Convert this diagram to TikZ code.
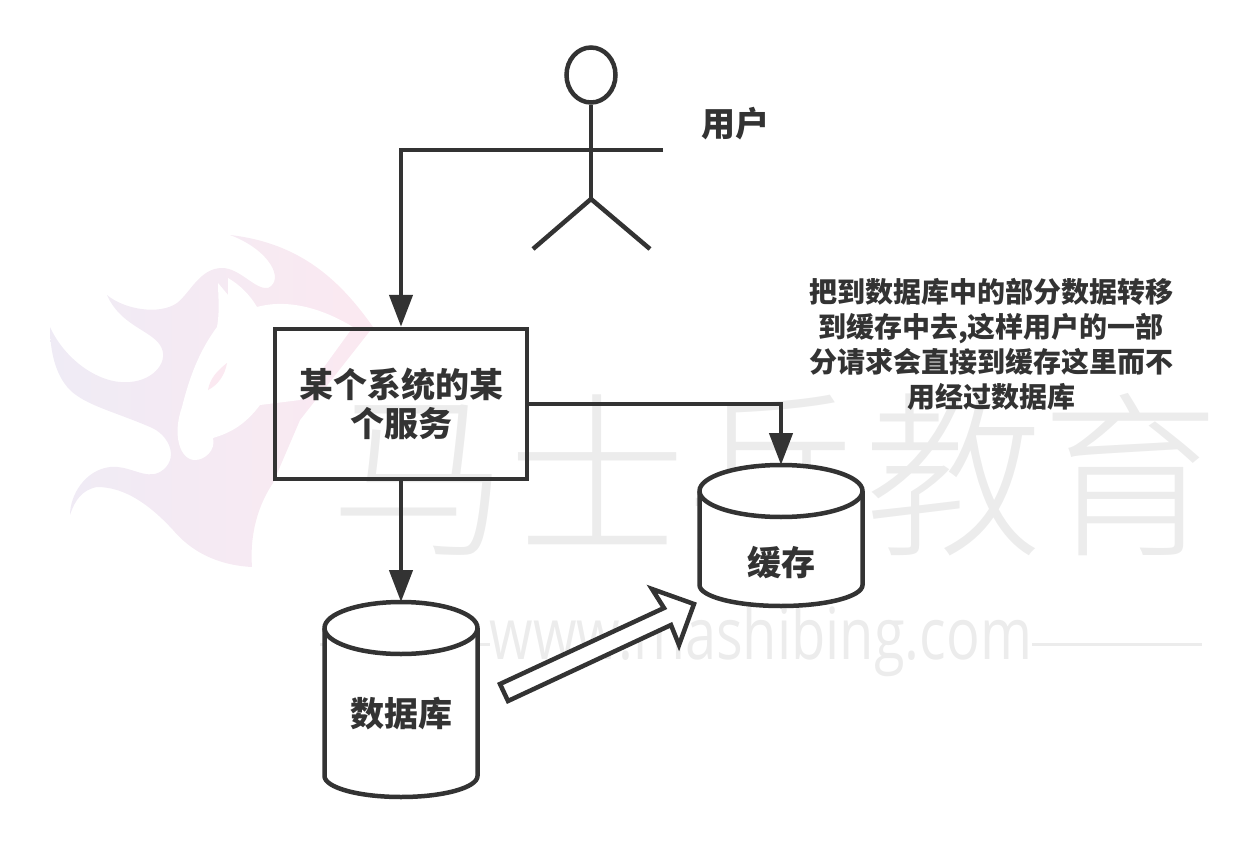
\documentclass[tikz,border=0pt]{standalone}
\usepackage{fontspec}
\setmainfont{Noto Sans CJK SC}
\newfontfamily\marklight{Noto Sans CJK SC Light}
\newfontfamily\urlfont{Open Sans}
\usetikzlibrary{arrows.meta,shapes.geometric}
\definecolor{ink}{HTML}{333333}
\definecolor{markgrey}{HTML}{ECECEC}
\definecolor{logoleft}{HTML}{EFEBF5}
\definecolor{logoright}{HTML}{FBE9F1}
\tikzset{
    stroke/.style={draw=ink,line width=4.5pt},
    flow/.style={stroke,-{Stealth[length=32pt,width=23pt,inset=0pt]}},
    label/.style={text=ink,font=\bfseries\fontsize{34}{39}\selectfont,align=center,inner sep=0pt},
    note/.style={text=ink,font=\bfseries\fontsize{28}{35}\selectfont,align=center,inner sep=0pt},
    drumarea/.style={inner sep=0pt,outer sep=0pt},
}
% #1 node that holds the drum, #2 half of its width
\newcommand{\drumshape}[2]{
    \draw[stroke,fill=white] ([yshift=-26pt]#1.north west) arc[start angle=180,end angle=0,x radius=#2,y radius=26pt]
        -- ([yshift=21pt]#1.south east) arc[start angle=0,end angle=-180,x radius=#2,y radius=21pt] -- cycle;
    \draw[stroke] ([yshift=-26pt]#1.north west) arc[start angle=180,end angle=360,x radius=#2,y radius=26pt];
}
\begin{document}
\begin{tikzpicture}[x=1pt,y=-1pt]
    \useasboundingbox (0,0) rectangle (1254,851);

    % logo
    \shade[left color=logoleft,right color=logoright,draw=none]
        (230,235) .. controls (300,243) and (340,280) .. (373,327)
        -- (300,420) -- (273,483) .. controls (255,510) and (250,540) .. (252,567)
        .. controls (215,565) and (190,550) .. (173,530)
        .. controls (150,505) and (125,487) .. (97,487)
        .. controls (82,490) and (75,500) .. (70,515)
        .. controls (70,495) and (85,470) .. (110,467)
        .. controls (130,465) and (145,480) .. (160,472)
        .. controls (180,460) and (170,435) .. (150,427)
        .. controls (115,412) and (85,405) .. (70,390)
        .. controls (55,375) and (50,350) .. (50,327)
        .. controls (65,360) and (100,385) .. (130,382)
        .. controls (155,380) and (170,360) .. (160,345)
        .. controls (150,330) and (120,325) .. (107,295)
        .. controls (125,310) and (160,315) .. (177,303)
        .. controls (190,293) and (200,268) .. (222,268)
        .. controls (240,268) and (255,290) .. (268,288)
        .. controls (285,280) and (270,250) .. (230,235) -- cycle;
    \fill[white] (218,283) -- (228,295) -- (228,278)
        .. controls (240,285) and (250,295) .. (257,307)
        .. controls (290,298) and (325,310) .. (353,327)
        -- (300,400) -- (260,405)
        .. controls (245,425) and (230,433) .. (213,438)
        .. controls (216,450) and (205,460) .. (195,460)
        .. controls (180,460) and (172,435) .. (182,407)
        .. controls (190,375) and (200,350) .. (217,327)
        .. controls (220,310) and (218,295) .. (218,283) -- cycle;
    \fill[logoright] (227,363) .. controls (225,375) and (218,385) .. (208,390)
        .. controls (210,378) and (218,370) .. (227,363) -- cycle;

    % marca de agua
    \node[text=markgrey,font=\marklight\fontsize{178}{178}\selectfont,inner sep=0pt] (markname) at (775,475) {马士兵教育};
    \node[text=markgrey,font=\urlfont\fontsize{72}{72}\selectfont,inner sep=0pt,xscale=.777,transform shape] (markurl) at (761,641) {www.mashibing.com};
    \draw[markgrey,line width=3pt] (320,644) -- (markurl.west |- 320,644);
    \draw[markgrey,line width=3pt] (markurl.east |- 1202,644) -- (1202,644);

    % usuario
    \node[stroke,shape=ellipse,minimum width=49pt,minimum height=55pt,inner sep=0pt] (head) at (591,75) {};
    \coordinate (armright) at (663,150);
    \coordinate (hip) at (591,199);
    \coordinate (footleft) at (533,249);
    \coordinate (footright) at (650,249);
    \node[label] (usertext) at (735,124) {用户};

    % cajas
    \node[stroke,label,minimum width=252pt,minimum height=150pt] (sysbox) at (401,404) {某个系统的某\\个服务};
    \node[drumarea,minimum width=163pt,minimum height=141pt] (cache) at (781,535.5) {};
    \drumshape{cache}{81.5pt}
    \node[label] (cachetext) at (781,563) {缓存};
    \node[drumarea,minimum width=153pt,minimum height=195pt] (database) at (401,699.5) {};
    \drumshape{database}{76.5pt}
    \node[label] (databasetext) at (401,714) {数据库};
    \node[note] (notetext) at (991,344) {把到数据库中的部分数据转移\\到缓存中去,这样用户的一部\\分请求会直接到缓存这里而不\\用经过数据库};

    % lineas
    \draw[stroke] (head.south) -- (hip);
    \draw[stroke] (footleft) -- (hip) -- (footright);
    \draw[flow] (armright) -| (sysbox.north);
    \draw[flow] (sysbox.east) -| (cache.north);
    \draw[flow] (sysbox.south) -- (database.north);

    % flecha hueca
    \coordinate (hollowa) at (500,684);
    \coordinate (hollowb) at (508,701);
    \coordinate (hollowc) at (671,625);
    \coordinate (hollowd) at (679,645);
    \coordinate (hollowtip) at (694,604);
    \coordinate (hollowe) at (652,589);
    \coordinate (hollowf) at (664,608);
    \draw[stroke,fill=white] (hollowa) -- (hollowb) -- (hollowc) -- (hollowd) -- (hollowtip) -- (hollowe) -- (hollowf) -- cycle;
\end{tikzpicture}
\end{document}
